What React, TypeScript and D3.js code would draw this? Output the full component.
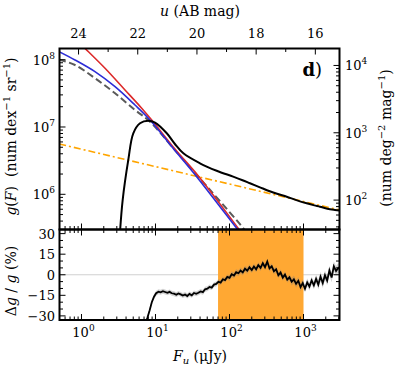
import React from "react";
import * as d3 from "d3";

const FONT = "DejaVu Serif";

// Main panel curves: F (µJy) and g(F) (num dex^-1 sr^-1)
const dataF = [3.26, 3.6, 4.29, 5.01, 6.18, 8.0, 9.85, 14.2, 18.3, 23.8, 39.9, 67.1, 112, 150, 189, 258, 350, 450, 593, 800, 1104, 1400, 1671, 2100, 2667, 3065];
const dataG = [2.1e5, 8.2e5, 3.24e6, 8.06e6, 1.135e7, 1.24e7, 1.16e7, 8.06e6, 5.59e6, 4.06e6, 2.89e6, 2.24e6, 1.83e6, 1.62e6, 1.46e6, 1.27e6, 1.11e6, 1.01e6, 9.2e5, 8.2e5, 7.35e5, 6.85e5, 6.55e5, 6.1e5, 5.85e5, 5.74e5];

const blueF = [0.497, 0.817, 1.52, 2.84, 5.28, 8.43, 17.4, 36.0, 125, 139];
const blueG = [1.315e8, 9.9e7, 6.64e7, 3.97e7, 2.12e7, 1.27e7, 4.8e6, 1.83e6, 3.13e5, 2.7e5];

const redF = [0.955, 1.11, 2.08, 3.87, 6.51, 8.89, 18.3, 37.9, 131, 143];
const redG = [1.75e8, 1.48e8, 7.45e7, 3.55e7, 1.9e7, 1.27e7, 4.71e6, 1.87e6, 3.13e5, 2.75e5];

const modelF = [0.497, 0.817, 1.52, 2.84, 5.28, 8.43, 18.3, 54.6, 154, 167];
const modelG = [1.0e8, 8.34e7, 5.3e7, 3.17e7, 1.79e7, 1.2e7, 4.55e6, 1.16e6, 3.13e5, 2.75e5];

const powF = [0.5, 3100];
const powG = [5.6e6, 5.83e5];

// Residual panel
const residF = [7.24, 7.76, 8.32, 8.91, 9.55, 10.2, 11.0, 11.7, 12.6, 13.5,
  14.5, 15.5, 16.6, 17.8, 19.1, 20.4, 21.9, 23.4, 25.1, 26.9,
  28.8, 30.9, 33.1, 35.5, 38.0, 40.7, 43.7, 46.8, 50.1, 53.7,
  57.5, 61.7, 66.1, 70.8, 75.9, 81.3, 87.1, 93.3, 100, 107,
  115, 123, 132, 141, 151, 162, 174, 186, 200, 214,
  229, 245, 263, 282, 302, 324, 347, 372, 398, 427,
  457, 490, 525, 562, 603, 646, 692, 741, 794, 851,
  912, 977, 1047, 1122, 1202, 1288, 1380, 1479, 1585, 1698,
  1820, 1950, 2089, 2239, 2399, 2570, 2754, 2951, 3162];
const residPct = [-36, -31.5, -26, -20, -16, -13.5, -12.4, -12.8, -12, -12.6,
  -13.2, -12.5, -13.5, -13.8, -14.6, -13.6, -14.3, -15.2, -14.4, -15.5,
  -14, -15, -13.3, -13.9, -13.1, -12.2, -12.7, -10.6, -10.2, -8.9,
  -9.4, -7.2, -6.7, -5.1, -5.7, -3.3, -3.9, -1.6, -2.3, 0.4,
  -0.6, 1.9, 1.1, 3.0, 1.7, 4.4, 3.0, 5.4, 3.4, 6.0,
  4.0, 7.0, 5.0, 8.4, 5.5, 9.6, 4.6, 6.2, 2.6, 4.0,
  -0.4, 1.6, -2.1, 0.2, -3.6, -1.9, -5.1, -3.4, -6.6, -4.4,
  -9.0, -6.1, -10.2, -5.6, -8.6, -4.1, -7.7, -3.0, -7.2, -1.4,
  -6.1, -0.4, -4.2, 3.1, -2.0, 6.2, 2.8, 5.0, 3.5];
const residErr = [1.8, 1.8, 1.8, 1.8, 1.8, 1.8, 1.8, 1.8, 1.8, 1.8,
  1.8, 1.8, 1.8, 1.8, 1.8, 1.8, 1.8, 1.8, 1.8, 1.8,
  1.8, 1.8, 1.8, 1.8, 1.8, 1.8, 1.8, 1.8, 1.8, 1.8,
  1.8, 1.8, 1.8, 1.8, 1.8, 1.8, 1.8, 1.8, 2.2, 2.2,
  2.2, 2.2, 2.2, 2.2, 2.2, 2.2, 2.2, 2.2, 2.2, 2.2,
  2.2, 2.2, 2.2, 2.2, 2.2, 2.2, 2.2, 2.2, 2.2, 2.2,
  2.2, 2.2, 2.2, 2.2, 2.2, 2.2, 2.8, 2.8, 2.8, 2.8,
  2.8, 2.8, 2.8, 2.8, 2.8, 2.8, 2.8, 2.8, 3.5, 3.5,
  3.5, 3.5, 3.5, 3.5, 3.5, 3.5, 3.5, 3.5, 3.5];

const bandRange = [70, 1000];

// Axis ticks
const xMajor = [1, 10, 100, 1000];
const xMajorExp = ["0", "1", "2", "3"];
const yMajor = [1e6, 1e7, 1e8];
const yMajorExp = ["6", "7", "8"];
const rMajor = [1e2, 1e3, 1e4];
const rMajorExp = ["2", "3", "4"];
const magMajor = [24, 22, 20, 18, 16];
const magMinor = [23, 21, 19, 17];
const residMajor = [-30, -15, 0, 15, 30];
const residMinor = [-25, -20, -10, -5, 5, 10, 20, 25];

const CONV = 2.5 * 3282.806; // sr->deg^2, dex->mag

export default function App() {
  const W = 399, H = 368;
  const L = 59.5, R = 339.5, T = 48.5, M = 229.5, B = 320;
  const x = d3.scaleLog().domain([0.5044, 3065]).range([L, R]);
  const y = d3.scaleLog().domain([3.0e5, 1.466e8]).range([M, T]);
  const yR = d3.scaleLog().domain([3.0e5 / CONV, 1.466e8 / CONV]).range([M, T]);
  const yd = d3.scaleLinear().domain([-33, 33]).range([B, M]);
  const magX = (m: number) => x(Math.pow(10, (23.9 - m) / 2.5));

  const mk = (F: number[], G: number[]) => F.map((f, i) => [f, G[i]] as [number, number]);
  const line = d3.line<[number, number]>().x(d => x(d[0])).y(d => y(d[1])).curve(d3.curveCatmullRom.alpha(0.5));
  const straight = d3.line<[number, number]>().x(d => x(d[0])).y(d => y(d[1]));

  const resid = residF.map((f, i) => ({ f, v: residPct[i], e: residErr[i] }));
  const rLine = d3.line<any>().x(d => x(d.f)).y(d => yd(d.v));
  const rArea = d3.area<any>().x(d => x(d.f)).y0(d => yd(d.v - d.e)).y1(d => yd(d.v + d.e));

  const MAJ = 6, MIN = 3.5;
  const xMinor = x.ticks().filter(t => !xMajor.some(m => Math.abs(m - t) < 1e-9));
  const yMinorT = y.ticks().filter(t => !yMajor.some(m => Math.abs(m - t) / m < 1e-9));
  const rMinorT = yR.ticks().filter(t => !rMajor.some(m => Math.abs(m - t) / m < 1e-9));

  const tickLine = (x1: number, y1: number, x2: number, y2: number, k: string) => (
    <line key={k} x1={x1} y1={y1} x2={x2} y2={y2} stroke="#000" strokeWidth={1} />
  );

  const ticks: React.ReactNode[] = [];
  [...xMajor.map(v => [v, MAJ]), ...xMinor.map(v => [v, MIN])].forEach(([v, len], i) => {
    const px = x(v);
    ticks.push(tickLine(px, M, px, M - len, "xm" + i));
    ticks.push(tickLine(px, M, px, M + len, "xl" + i));
    ticks.push(tickLine(px, B, px, B - len, "xb" + i));
  });
  [...magMajor.map(v => [v, MAJ]), ...magMinor.map(v => [v, MIN])].forEach(([v, len], i) => {
    const px = magX(v);
    ticks.push(tickLine(px, T, px, T + len, "mt" + i));
  });
  [...yMajor.map(v => [v, MAJ]), ...yMinorT.map(v => [v, MIN])].forEach(([v, len], i) => {
    const py = y(v);
    ticks.push(tickLine(L, py, L + len, py, "yl" + i));
  });
  [...rMajor.map(v => [v, MAJ]), ...rMinorT.map(v => [v, MIN])].forEach(([v, len], i) => {
    const py = yR(v);
    ticks.push(tickLine(R, py, R - len, py, "yr" + i));
  });
  [...residMajor.map(v => [v, MAJ]), ...residMinor.map(v => [v, MIN])].forEach(([v, len], i) => {
    const py = yd(v);
    ticks.push(tickLine(L, py, L + len, py, "rl" + i));
    ticks.push(tickLine(R, py, R - len, py, "rr" + i));
  });

  const fmtNum = (v: number) => (v < 0 ? "\u2212" + Math.abs(v) : String(v));

  return (
    <svg width={W} height={H} style={{ position: "absolute", left: 0, top: 0 }} fontFamily={FONT}>
      <rect x={0} y={0} width={W} height={H} fill="#fff" />
      <defs>
        <clipPath id="clipMain"><rect x={L} y={T} width={R - L} height={M - T} /></clipPath>
        <clipPath id="clipRes"><rect x={L} y={M} width={R - L} height={B - M} /></clipPath>
      </defs>

      <g clipPath="url(#clipMain)">
        <path d={straight(mk(powF, powG)) || ""} fill="none" stroke="#ffa500" strokeWidth={1.6} strokeDasharray="7,3,2,3" />
        <path d={line(mk(modelF, modelG)) || ""} fill="none" stroke="#5a5a5a" strokeWidth={2} strokeDasharray="7,3.5" />
        <path d={line(mk(redF, redG)) || ""} fill="none" stroke="#dc2a2a" strokeWidth={1.6} />
        <path d={line(mk(blueF, blueG)) || ""} fill="none" stroke="#2d2dd6" strokeWidth={1.6} />
        <path d={line(mk(dataF, dataG)) || ""} fill="none" stroke="#000" strokeWidth={2} />
      </g>

      <g clipPath="url(#clipRes)">
        <line x1={L} x2={R} y1={yd(0)} y2={yd(0)} stroke="#d0d0d0" strokeWidth={1.2} />
        <rect x={x(bandRange[0])} y={M} width={x(bandRange[1]) - x(bandRange[0])} height={B - M} fill="#ffa833" />
        <path d={rArea(resid) || ""} fill="#808080" fillOpacity={0.35} stroke="none" />
        <path d={rLine(resid) || ""} fill="none" stroke="#000" strokeWidth={1.8} />
      </g>

      {ticks}

      <rect x={L} y={T} width={R - L} height={M - T} fill="none" stroke="#000" strokeWidth={2} />
      <rect x={L} y={M} width={R - L} height={B - M} fill="none" stroke="#000" strokeWidth={2} />

      {magMajor.map(m => (
        <text key={"ml" + m} x={magX(m)} y={38} fontSize={13} textAnchor="middle">{m}</text>
      ))}
      <text x={200} y={16} fontSize={14} textAnchor="middle">
        <tspan fontStyle="italic">u</tspan>{" (AB mag)"}
      </text>

      {xMajor.map((v, i) => (
        <text key={"xl" + i} x={x(v) + 2} y={337} fontSize={13} textAnchor="middle">
          10<tspan dy={-6} fontSize={9}>{xMajorExp[i]}</tspan>
        </text>
      ))}
      <text x={200} y={361} fontSize={14} textAnchor="middle">
        <tspan fontStyle="italic">F</tspan><tspan fontStyle="italic" fontSize={10} dy={3}>u</tspan><tspan dy={-3}>{" (\u03bcJy)"}</tspan>
      </text>

      {yMajor.map((v, i) => (
        <text key={"yl" + i} x={55} y={y(v) + 5} fontSize={13} textAnchor="end">
          10<tspan dy={-6} fontSize={9}>{yMajorExp[i]}</tspan>
        </text>
      ))}
      {rMajor.map((v, i) => (
        <text key={"yr" + i} x={345} y={yR(v) + 5} fontSize={13} textAnchor="start">
          10<tspan dy={-6} fontSize={9}>{rMajorExp[i]}</tspan>
        </text>
      ))}
      {residMajor.map(v => (
        <text key={"rl" + v} x={55} y={yd(v) + 5} fontSize={13} textAnchor="end">{fmtNum(v)}</text>
      ))}

      <text transform="translate(16,136.5) rotate(-90)" fontSize={14} textAnchor="middle">
        <tspan fontStyle="italic">g</tspan>(<tspan fontStyle="italic">F</tspan>){"\u00a0\u00a0(num dex"}
        <tspan dy={-6} fontSize={10}>{"\u22121"}</tspan>
        <tspan dy={6}>{"\u00a0sr"}</tspan>
        <tspan dy={-6} fontSize={10}>{"\u22121"}</tspan>
        <tspan dy={6}>)</tspan>
      </text>
      <text transform="translate(16,281) rotate(-90)" fontSize={14} textAnchor="middle">
        {"\u0394"}<tspan fontStyle="italic">g</tspan>{" / "}<tspan fontStyle="italic">g</tspan>{" (%)"}
      </text>
      <text transform="translate(391,138) rotate(-90)" fontSize={14} textAnchor="middle">
        {"(num deg"}
        <tspan dy={-6} fontSize={10}>{"\u22122"}</tspan>
        <tspan dy={6}>{"\u00a0mag"}</tspan>
        <tspan dy={-6} fontSize={10}>{"\u22121"}</tspan>
        <tspan dy={6}>)</tspan>
      </text>

      <text x={322} y={76} fontSize={18} textAnchor="end">
        <tspan fontWeight="bold">d</tspan>)
      </text>
    </svg>
  );
}
